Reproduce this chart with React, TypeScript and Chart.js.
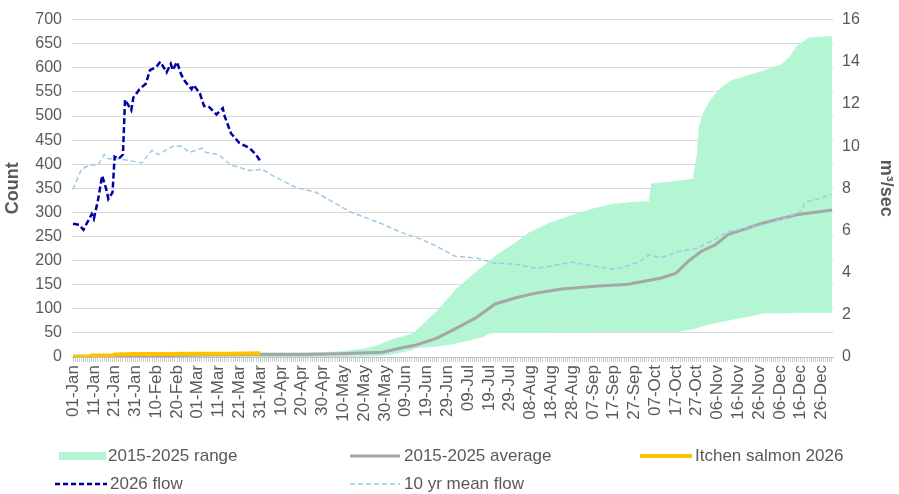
import React, { useEffect, useRef } from 'react';
import { Chart, registerables } from 'chart.js';
Chart.register(...registerables);

// ---- tick labels (every 10th day of a 366-day year) ----
const tickLabels = ['01-Jan','11-Jan','21-Jan','31-Jan','10-Feb','20-Feb','01-Mar','11-Mar','21-Mar','31-Mar','10-Apr','20-Apr','30-Apr','10-May','20-May','30-May','09-Jun','19-Jun','29-Jun','09-Jul','19-Jul','29-Jul','08-Aug','18-Aug','28-Aug','07-Sep','17-Sep','27-Sep','07-Oct','17-Oct','27-Oct','06-Nov','16-Nov','26-Nov','06-Dec','16-Dec','26-Dec'];
const dayCount = 366;

// ---- 2015-2025 range (count) ----
const rangeDays =  [0, 30, 60, 90, 120, 129, 141, 147, 152, 163, 165, 175, 181, 184, 194, 197, 200, 203, 213, 219, 229, 240, 250, 260, 270, 277, 278, 290, 298, 300, 301, 303, 306, 310, 316, 325, 332, 341, 345, 348, 354, 365];
const rangeMax =   [3, 6, 8, 10, 10, 12, 18, 25, 35, 49, 55, 96, 125, 140, 178, 188, 198, 210, 238, 258, 278, 295, 308, 318, 322, 323, 360, 365, 370, 420, 480, 505, 530, 553, 573, 585, 594, 608, 625, 645, 663, 666];
const rangeMin =   [0, 0, 0, 0, 0, 0, 1, 2, 4, 14, 18, 22, 25, 28, 38, 41, 49, 50, 50, 50, 51, 51, 52, 52, 52, 52, 52, 52, 57, 59, 61, 64, 68, 71, 76, 84, 90, 91, 91, 92, 92, 92];

// ---- 2015-2025 average (count) ----
const avgDays =   [0, 30, 60, 90, 110, 128, 149, 157, 165, 175, 184, 194, 203, 213, 223, 235, 251, 267, 283, 290, 296, 302, 309, 315, 331, 348, 365];
const avgCounts = [1, 2, 4, 5, 5, 7, 10, 18, 25, 39, 59, 82, 110, 123, 133, 141, 147, 151, 164, 174, 199, 219, 233, 254, 277, 295, 305];

// ---- Itchen salmon 2026 (count) ----
const itchenDays =   [0, 8, 9, 19, 20, 30, 45, 60, 75, 90];
const itchenCounts = [1, 1, 3, 3, 5, 6, 6, 7, 7, 8];

// ---- 2026 flow (m3/sec) ----
const flowDays =   [0, 3, 5, 7, 9, 10, 12, 14, 16, 17, 19, 20, 22, 24, 25, 28, 29, 32, 35, 37, 40, 42, 45, 47, 48, 50, 52, 54, 57, 58, 61, 63, 65, 69, 71, 72, 73, 76, 80, 85, 88, 90];
const flowValues = [6.32, 6.27, 6.03, 6.41, 6.78, 6.55, 7.44, 8.6, 7.95, 7.49, 7.81, 9.5, 9.4, 9.6, 12.2, 11.7, 12.3, 12.7, 12.96, 13.6, 13.75, 14.0, 13.5, 13.9, 13.6, 13.99, 13.4, 13.05, 12.7, 12.9, 12.5, 11.9, 11.9, 11.5, 11.7, 11.8, 11.4, 10.6, 10.15, 9.9, 9.6, 9.3];

// ---- 10 yr mean flow (m3/sec) ----
const meanDays =   [0, 4, 8, 12, 15, 17, 22, 28, 33, 38, 41, 48, 52, 56, 62, 64, 70, 76, 85, 91, 96, 100, 107, 117, 133, 149, 157, 168, 175, 184, 194, 203, 213, 223, 235, 240, 251, 261, 272, 277, 283, 291, 300, 309, 315, 331, 341, 350, 352, 359, 363, 365];
const meanValues = [7.95, 8.9, 9.1, 9.1, 9.6, 9.4, 9.4, 9.3, 9.2, 9.8, 9.6, 10.0, 10.0, 9.7, 9.9, 9.7, 9.6, 9.1, 8.85, 8.9, 8.6, 8.4, 8.05, 7.8, 6.9, 6.3, 5.94, 5.56, 5.24, 4.77, 4.7, 4.45, 4.4, 4.2, 4.4, 4.5, 4.3, 4.15, 4.5, 4.85, 4.7, 5.0, 5.15, 5.6, 5.94, 6.26, 6.55, 6.9, 7.35, 7.5, 7.67, 7.7];

const GREEN = '#b4f5d3';
const GREY = '#a6a6a6';
const ORANGE = '#ffc000';
const DARKBLUE = '#0000a8';
const LIGHTBLUE = '#9ecbe4';
const TEXT = '#595959';
const FONT = "'Liberation Sans', Arial, sans-serif";

const pts = (xs: number[], ys: number[]) => xs.map((x, i) => ({ x, y: ys[i] }));

function Swatch({ left, top, width, kind, color, dash, thick }: any) {
  if (kind === 'box') {
    return <div style={{ position: 'absolute', left, top: top - 4, width, height: 8, background: color }} />;
  }
  return (
    <svg style={{ position: 'absolute', left, top: top - 5 }} width={width} height={10}>
      <line x1={0} y1={5} x2={width} y2={5} stroke={color} strokeWidth={thick} strokeDasharray={dash || undefined} />
    </svg>
  );
}

function LegendText({ left, top, text }: any) {
  return (
    <div style={{ position: 'absolute', left, top: top - 11, height: 22, lineHeight: '22px', fontFamily: FONT, fontSize: 17, color: TEXT, whiteSpace: 'nowrap' }}>{text}</div>
  );
}

export default function App() {
  const ref = useRef<HTMLCanvasElement | null>(null);
  useEffect(() => {
    if (!ref.current) return;
    const chart = new Chart(ref.current, {
      type: 'line',
      data: {
        datasets: [
          { label: 'Itchen salmon 2026', data: pts(itchenDays, itchenCounts), yAxisID: 'y', borderColor: ORANGE, borderWidth: 4, pointRadius: 0, fill: false, order: 0 },
          { label: '2026 flow', data: pts(flowDays, flowValues), yAxisID: 'y1', borderColor: DARKBLUE, borderWidth: 2.5, borderDash: [6, 3], pointRadius: 0, fill: false, order: 1 },
          { label: '10 yr mean flow', data: pts(meanDays, meanValues), yAxisID: 'y1', borderColor: LIGHTBLUE, borderWidth: 1.5, borderDash: [5, 3], pointRadius: 0, fill: false, order: 2 },
          { label: '2015-2025 average', data: pts(avgDays, avgCounts), yAxisID: 'y', borderColor: GREY, borderWidth: 3, pointRadius: 0, fill: false, order: 3 },
          { label: '2015-2025 range', data: pts(rangeDays, rangeMax), yAxisID: 'y', borderColor: GREEN, borderWidth: 0, backgroundColor: GREEN, pointRadius: 0, fill: '+1', order: 4 },
          { label: 'range min', data: pts(rangeDays, rangeMin), yAxisID: 'y', borderColor: GREEN, borderWidth: 0, pointRadius: 0, fill: false, order: 5 },
        ],
      },
      options: {
        animation: false,
        responsive: false,
        layout: { padding: { top: 15, left: 0, right: 0, bottom: 0 } },
        plugins: { legend: { display: false }, tooltip: { enabled: false } },
        elements: { line: { tension: 0 } },
        scales: {
          x: {
            type: 'linear',
            min: -0.5,
            max: dayCount - 0.5,
            afterBuildTicks: (scale: any) => {
              const t: any[] = [];
              for (let i = 0; i < dayCount; i++) t.push({ value: i });
              scale.ticks = t;
            },
            afterFit: (scale: any) => { scale.height = 494 - 357; },
            ticks: {
              autoSkip: false,
              maxRotation: 90,
              minRotation: 90,
              padding: 3,
              color: TEXT,
              font: { family: FONT, size: 17 },
              callback: (v: any) => (v % 10 === 0 ? tickLabels[v / 10] : ''),
            },
            grid: { drawOnChartArea: false, drawTicks: true, tickLength: 5, color: '#cfcfcf' },
            border: { color: '#bfbfbf' },
          },
          y: {
            position: 'left',
            min: 0,
            max: 700,
            afterFit: (scale: any) => { scale.width = 72; },
            ticks: { stepSize: 50, color: TEXT, padding: 10, font: { family: FONT, size: 16 } },
            grid: { color: '#d9d9d9', drawTicks: false },
            border: { display: false },
            title: { display: true, text: 'Count', color: TEXT, font: { family: FONT, size: 18, weight: 'bold' }, padding: { top: 2, bottom: 2 } },
          },
          y1: {
            position: 'right',
            min: 0,
            max: 16,
            afterFit: (scale: any) => { scale.width = 66; },
            ticks: { stepSize: 2, color: TEXT, padding: 9, font: { family: FONT, size: 16 } },
            grid: { drawOnChartArea: false, drawTicks: false },
            border: { display: false },
            title: { display: true, text: 'm³/sec', color: TEXT, font: { family: FONT, size: 18, weight: 'bold' }, padding: { top: 2, bottom: 2 } },
          },
        },
      } as any,
    });
    return () => chart.destroy();
  }, []);

  return (
    <div style={{ position: 'fixed', left: 0, top: 0, width: 899, height: 494, background: '#fff' }}>
      <canvas ref={ref} width={899} height={494} style={{ position: 'absolute', left: 0, top: 0, width: 899, height: 494 }} />
      <Swatch left={59} top={456} width={47} kind="box" color={GREEN} />
      <LegendText left={108} top={456} text="2015-2025 range" />
      <Swatch left={350} top={456} width={50} kind="line" color={GREY} thick={3} />
      <LegendText left={404} top={456} text="2015-2025 average" />
      <Swatch left={640} top={456} width={52} kind="line" color={ORANGE} thick={4} />
      <LegendText left={695} top={456} text="Itchen salmon 2026" />
      <Swatch left={55} top={484} width={52} kind="line" color={DARKBLUE} thick={2.5} dash="5,3" />
      <LegendText left={110} top={484} text="2026 flow" />
      <Swatch left={350} top={484} width={50} kind="line" color={LIGHTBLUE} thick={1.5} dash="5,3" />
      <LegendText left={404} top={484} text="10 yr mean flow" />
    </div>
  );
}
